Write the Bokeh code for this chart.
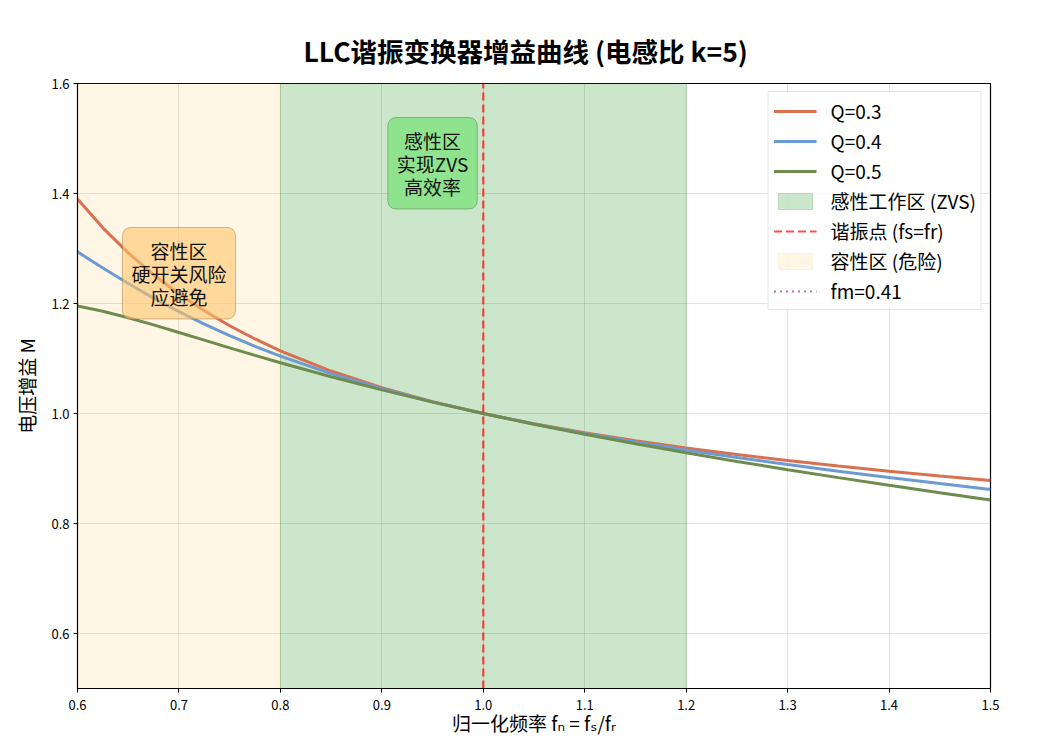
from bokeh.plotting import figure
from bokeh.models import Range1d, Label, Legend, LegendItem, FixedTicker, NumeralTickFormatter
from bokeh.embed import file_html
from bokeh.resources import INLINE

# ---- data ----
fn = [0.6, 0.625, 0.65, 0.675, 0.7, 0.725, 0.75, 0.775, 0.8, 0.85, 0.9, 0.95,
      1.0, 1.05, 1.1, 1.15, 1.2, 1.25, 1.3, 1.35, 1.4, 1.45, 1.5]
m_q03 = [1.3898, 1.3376, 1.2920, 1.2522, 1.2174, 1.1867, 1.1596, 1.1355, 1.1140,
         1.0772, 1.0469, 1.0216, 1.0, 0.9813, 0.9650, 0.9504, 0.9374, 0.9255,
         0.9147, 0.9046, 0.8952, 0.8864, 0.8781]
m_q04 = [1.2939, 1.2645, 1.2363, 1.2098, 1.1852, 1.1624, 1.1414, 1.1221, 1.1043,
         1.0725, 1.0451, 1.0212, 1.0, 0.9810, 0.9638, 0.9481, 0.9335, 0.9200,
         0.9072, 0.8951, 0.8836, 0.8726, 0.8620]
m_q05 = [1.1954, 1.1860, 1.1742, 1.1611, 1.1473, 1.1333, 1.1193, 1.1056, 1.0922,
         1.0667, 1.0429, 1.0207, 1.0, 0.9806, 0.9624, 0.9451, 0.9287, 0.9129,
         0.8979, 0.8834, 0.8694, 0.8558, 0.8427]
q_labels = ["Q=0.3", "Q=0.4", "Q=0.5"]

x_lo, x_hi = 0.6, 1.5
y_lo, y_hi = 0.5, 1.6
zvs_zone = [0.8, 1.2]
cap_zone = [0.6, 0.8]
fr = 1.0
fm = 0.41
x_ticks = [0.6, 0.7, 0.8, 0.9, 1.0, 1.1, 1.2, 1.3, 1.4, 1.5]
y_ticks = [0.6, 0.8, 1.0, 1.2, 1.4, 1.6]

FONT = "'Noto Sans CJK SC', 'DejaVu Sans', sans-serif"

p = figure(frame_width=913, frame_height=605,
           x_range=Range1d(x_lo, x_hi), y_range=Range1d(y_lo, y_hi),
           output_backend="svg", toolbar_location=None,
           min_border_left=77, min_border_right=40, min_border_top=83,
           min_border_bottom=30)
p.background_fill_color = "white"
p.outline_line_color = "black"
p.outline_line_width = 1.2

p.title.text = "LLC谐振变换器增益曲线 (电感比 k=5)"
p.title.text_font = FONT
p.title.text_font_size = "26.5px"
p.title.text_font_style = "bold"
p.title.text_color = "black"
p.title.align = "left"
p.title.offset = 226
p.title.standoff = 28

for ax in (p.xaxis[0], p.yaxis[0]):
    ax.major_label_text_font = FONT
    ax.major_label_text_font_size = "13px"
    ax.major_label_text_color = "black"
    ax.axis_label_text_font = FONT
    ax.axis_label_text_font_size = "19px"
    ax.axis_label_text_font_style = "normal"
    ax.axis_label_text_color = "black"
    ax.major_tick_in = 0
    ax.major_tick_out = 4
    ax.minor_tick_in = 0
    ax.minor_tick_out = 0
    ax.axis_line_color = "black"
    ax.formatter = NumeralTickFormatter(format="0.0")
p.xaxis.ticker = FixedTicker(ticks=x_ticks)
p.yaxis.ticker = FixedTicker(ticks=y_ticks)
p.xaxis.axis_label = "归一化频率 fₙ = fₛ/fᵣ"
p.yaxis.axis_label = "电压增益 M"
p.xaxis.major_label_standoff = 7
p.yaxis.major_label_standoff = 4
p.xaxis.axis_label_standoff = -4
p.yaxis.axis_label_standoff = 8

p.grid.grid_line_color = "#b0b0b0"
p.grid.grid_line_alpha = 0.35
p.grid.grid_line_width = 1

# zones
r_zvs = p.quad(left=[zvs_zone[0]], right=[zvs_zone[1]], bottom=[y_lo], top=[y_hi],
               fill_color="green", fill_alpha=0.2, line_color="green", line_alpha=0.2)
r_cap = p.quad(left=[cap_zone[0]], right=[cap_zone[1]], bottom=[y_lo], top=[y_hi],
               fill_color="orange", fill_alpha=0.1, line_color="orange", line_alpha=0.1)

r1 = p.line(fn, m_q03, line_color="#D9704F", line_width=3)
r2 = p.line(fn, m_q04, line_color="#6B9BD2", line_width=3)
r3 = p.line(fn, m_q05, line_color="#6F8C4F", line_width=3)

r_fr = p.line([fr, fr], [y_lo, y_hi], line_color="red", line_alpha=0.7,
              line_width=2.2, line_dash="8 4")
r_fm = p.line([fm, fm], [y_lo, y_hi], line_color="#B040B0", line_alpha=0.8,
              line_width=2.2, line_dash="2 4")

legend = Legend(items=[
    LegendItem(label=q_labels[0], renderers=[r1]),
    LegendItem(label=q_labels[1], renderers=[r2]),
    LegendItem(label=q_labels[2], renderers=[r3]),
    LegendItem(label="感性工作区 (ZVS)", renderers=[r_zvs]),
    LegendItem(label="谐振点 (fs=fr)", renderers=[r_fr]),
    LegendItem(label="容性区 (危险)", renderers=[r_cap]),
    LegendItem(label="fm=0.41", renderers=[r_fm]),
], location="top_right")
legend.label_text_font = FONT
legend.label_text_font_size = "19px"
legend.label_text_color = "black"
legend.glyph_width = 43
legend.glyph_height = 20
legend.label_height = 20
legend.spacing = 3
legend.padding = 5
legend.margin = 8
legend.label_standoff = 14
legend.border_line_color = "#cccccc"
legend.border_line_width = 1
legend.background_fill_alpha = 0.85
p.add_layout(legend, "center")

lab1 = Label(x=0.70, y=1.255, text="容性区\n硬开关风险\n应避免",
             text_font=FONT, text_font_size="19px", text_align="center",
             text_baseline="middle", text_color="#111111",
             background_fill_color="#FFC56B", background_fill_alpha=0.6,
             border_line_color="#A08050", border_line_alpha=0.5,
             padding=9, border_radius=8, text_line_height=0.86)
lab2 = Label(x=0.95, y=1.455, text="感性区\n实现ZVS\n高效率",
             text_font=FONT, text_font_size="19px", text_align="center",
             text_baseline="middle", text_color="#111111",
             background_fill_color="#88E288", background_fill_alpha=0.9,
             border_line_color="#609060", border_line_alpha=0.6,
             padding=9, border_radius=8, text_line_height=0.86)
p.add_layout(lab1)
p.add_layout(lab2)

open("out.html", "w").write(file_html(p, INLINE))
